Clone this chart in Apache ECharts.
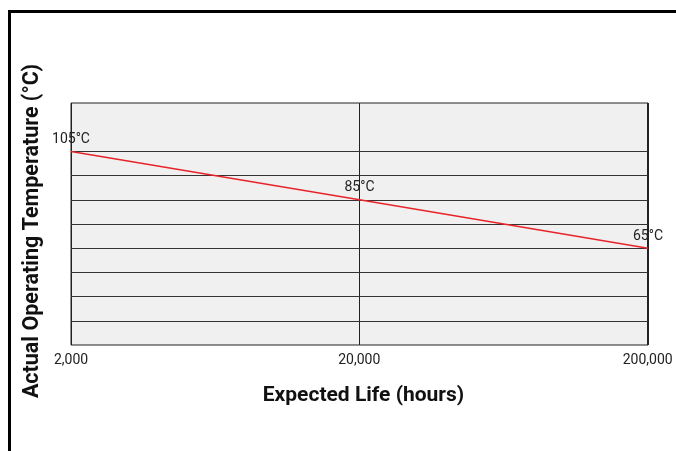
<!DOCTYPE html>
<html>
<head>
<meta charset="utf-8">
<script src="https://cdn.jsdelivr.net/npm/echarts@6/dist/echarts.min.js"></script>
<style>
  html, body { margin: 0; padding: 0; background: #fff; }
  #chart { width: 676px; height: 451px; }
</style>
</head>
<body>
<div id="chart"></div>
<script>
  // life (hours) vs operating temperature
  const lifeHours = [2000, 20000, 200000];
  const tempC = [105, 85, 65];
  const xTicks = [2000, 20000, 200000];
  const gridTemps = [35, 45, 55, 65, 75, 85, 95, 105];

  const chart = echarts.init(document.getElementById('chart'));
  const font = 'Roboto, sans-serif';

  const option = {
    animation: false,
    graphic: [{
      type: 'rect',
      shape: { x: 9.5, y: 11.5, width: 720, height: 500 },
      style: { fill: 'none', stroke: '#000', lineWidth: 3 },
      z: 100
    }],
    grid: {
      left: 71, right: 28, top: 103, bottom: 106,
      show: true,
      backgroundColor: '#f0f0f0',
      borderColor: '#222',
      borderWidth: 1
    },
    xAxis: {
      type: 'log',
      logBase: 10,
      min: xTicks[0],
      max: xTicks[xTicks.length - 1],
      interval: 1,
      name: 'Expected Life (hours)',
      nameLocation: 'middle',
      nameGap: 40,
      nameTextStyle: { fontFamily: font, fontWeight: 'bold', fontSize: 21, color: '#111', padding: [0, 0, 0, 8] },
      axisLine: { show: false },
      axisTick: { show: false },
      axisLabel: {
        fontFamily: font, fontSize: 14, color: '#222', margin: 8,
        formatter: v => Number(Number(v).toPrecision(2)).toLocaleString('en-US')
      },
      splitLine: { show: true, lineStyle: { color: '#222', width: 1 } }
    },
    yAxis: {
      type: 'value',
      min: 25,
      max: 125,
      name: 'Actual Operating Temperature (°C)',
      nameLocation: 'middle',
      nameGap: 27,
      nameTextStyle: { fontFamily: font, fontWeight: 'bold', fontSize: 21.5, color: '#111', padding: [0, 14, 0, 0] },
      axisLine: { show: false },
      axisTick: { show: false },
      axisLabel: { show: false },
      splitLine: { show: false }
    },
    series: [{
      type: 'line',
      data: lifeHours.map((h, i) => [h, tempC[i]]),
      symbol: 'circle',
      symbolSize: 0,
      showSymbol: true,
      itemStyle: { color: 'rgba(0,0,0,0)' },
      lineStyle: { color: '#e8232a', width: 1.5 },
      label: {
        show: true,
        position: 'top',
        distance: 5,
        fontFamily: font,
        fontSize: 14,
        color: '#222',
        formatter: p => p.value[1] + '°C'
      },
      markLine: {
        silent: true,
        symbol: 'none',
        label: { show: false },
        lineStyle: { color: '#333', width: 1, type: 'solid' },
        data: gridTemps.map(t => ({ yAxis: t }))
      },
      z: 5
    }]
  };

  chart.setOption(option);
</script>
</body>
</html>
